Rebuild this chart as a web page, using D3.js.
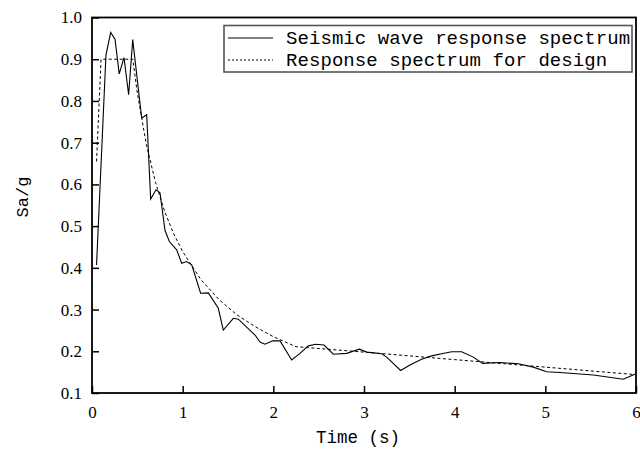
<!DOCTYPE html>
<html>
<head>
<meta charset="utf-8">
<script src="https://cdn.jsdelivr.net/npm/d3@7"></script>
<style>
  body { margin: 0; background: #fff; }
  .tick text { font-family: "Liberation Serif", "DejaVu Serif", serif; }
</style>
</head>
<body>
<div id="chart"></div>
<script>
// Seismic wave response spectrum
const seismicT = [0.05, 0.154, 0.206, 0.254, 0.30, 0.353, 0.404, 0.449, 0.548, 0.603,
  0.647, 0.706, 0.75, 0.805, 0.853, 0.934, 0.989, 1.044, 1.1, 1.198,
  1.283, 1.393, 1.448, 1.559, 1.614, 1.798, 1.853, 1.908, 1.993, 2.074,
  2.202, 2.294, 2.386, 2.47, 2.559, 2.662, 2.809, 2.948, 3.03, 3.195,
  3.25, 3.404, 3.507, 3.635, 3.746, 3.856, 3.967, 4.077, 4.206, 4.309,
  4.5, 4.702, 4.868, 5.015, 5.162, 5.53, 5.86, 6.0];
const seismicSa = [0.407, 0.91, 0.964, 0.948, 0.865, 0.904, 0.815, 0.947, 0.759, 0.767,
  0.565, 0.587, 0.58, 0.49, 0.463, 0.443, 0.411, 0.415, 0.407, 0.339,
  0.34, 0.303, 0.251, 0.279, 0.277, 0.239, 0.222, 0.217, 0.225, 0.225,
  0.179, 0.195, 0.213, 0.217, 0.215, 0.193, 0.195, 0.205, 0.198, 0.194,
  0.186, 0.154, 0.167, 0.181, 0.189, 0.194, 0.199, 0.199, 0.186, 0.171,
  0.173, 0.17, 0.162, 0.151, 0.149, 0.143, 0.133, 0.146];

// Design response spectrum
const designT = [0.05, 0.1, 0.45, 0.5, 0.6, 0.7, 0.8, 0.9, 1.0, 1.2, 1.4, 1.6, 1.8, 2.0, 2.25, 3, 4, 5, 6];
const designSa = [0.655, 0.9, 0.9, 0.819, 0.695, 0.605, 0.536, 0.482, 0.439, 0.372, 0.324, 0.287, 0.259, 0.235, 0.211, 0.198, 0.18, 0.162, 0.144];

const xTicks = [0, 1, 2, 3, 4, 5, 6];
const yTicks = [0.1, 0.2, 0.3, 0.4, 0.5, 0.6, 0.7, 0.8, 0.9, 1.0];
const legendLabels = ["Seismic wave response spectrum", "Response spectrum for design"];

const width = 640, height = 452;
const margin = { top: 17.5, right: 4, bottom: 59, left: 92 };

const serif = "Liberation Serif, DejaVu Serif, serif";
const mono = "Liberation Mono, DejaVu Sans Mono, monospace";

const svg = d3.select("#chart").append("svg")
  .attr("width", width)
  .attr("height", height);

const x = d3.scaleLinear().domain([0, 6]).range([margin.left, width - margin.right]);
const y = d3.scaleLinear().domain([0.1, 1.0]).range([height - margin.bottom, margin.top]);

const line = d3.line().x(d => x(d[0])).y(d => y(d[1]));

// lines
svg.append("path")
  .datum(d3.zip(designT, designSa))
  .attr("d", line)
  .attr("fill", "none")
  .attr("stroke", "#000")
  .attr("stroke-width", 1)
  .attr("stroke-dasharray", "3,2.5");

svg.append("path")
  .datum(d3.zip(seismicT, seismicSa))
  .attr("d", line)
  .attr("fill", "none")
  .attr("stroke", "#000")
  .attr("stroke-width", 1.1);

// axes (ticks inward)
const xAxis = svg.append("g")
  .attr("transform", `translate(0,${y(0.1)})`)
  .call(d3.axisBottom(x).tickValues(xTicks).tickFormat(d3.format("d")).tickSizeInner(-7).tickSizeOuter(0).tickPadding(13));
const yAxis = svg.append("g")
  .attr("transform", `translate(${x(0)},0)`)
  .call(d3.axisLeft(y).tickValues(yTicks).tickFormat(d3.format(".1f")).tickSizeInner(-7).tickSizeOuter(0).tickPadding(10));

[xAxis, yAxis].forEach(g => {
  g.attr("font-family", serif).attr("font-size", 17);
  g.select(".domain").remove();
  g.selectAll(".tick line").attr("stroke", "#000").attr("stroke-width", 1.5);
  g.selectAll(".tick text").attr("fill", "#000");
});

// frame
svg.append("rect")
  .attr("x", x(0))
  .attr("y", y(1.0))
  .attr("width", x(6) - x(0))
  .attr("height", y(0.1) - y(1.0))
  .attr("fill", "none")
  .attr("stroke", "#000")
  .attr("stroke-width", 1.8);

// axis titles
svg.append("text")
  .attr("x", 358)
  .attr("y", 443)
  .attr("text-anchor", "middle")
  .attr("font-family", mono)
  .attr("font-size", 17.5)
  .text("Time (s)");

svg.append("text")
  .attr("transform", `translate(28,197) rotate(-90)`)
  .attr("text-anchor", "middle")
  .attr("font-family", mono)
  .attr("font-size", 17)
  .text("Sa/g");

// legend
const legend = svg.append("g");
legend.append("rect")
  .attr("x", 224)
  .attr("y", 25.5)
  .attr("width", 408)
  .attr("height", 46.5)
  .attr("fill", "#fff")
  .attr("stroke", "#555")
  .attr("stroke-width", 1.6);

const rows = [38, 60];
legendLabels.forEach((lab, i) => {
  legend.append("line")
    .attr("x1", 228).attr("x2", 273)
    .attr("y1", rows[i]).attr("y2", rows[i])
    .attr("stroke", "#000")
    .attr("stroke-width", 1)
    .attr("stroke-dasharray", i === 1 ? "2,2" : null);
  legend.append("text")
    .attr("x", 286)
    .attr("y", rows[i] + 6)
    .attr("textLength", lab.length * 11.47)
    .attr("lengthAdjust", "spacing")
    .attr("font-family", mono)
    .attr("font-size", 19)
    .text(lab);
});
</script>
</body>
</html>
